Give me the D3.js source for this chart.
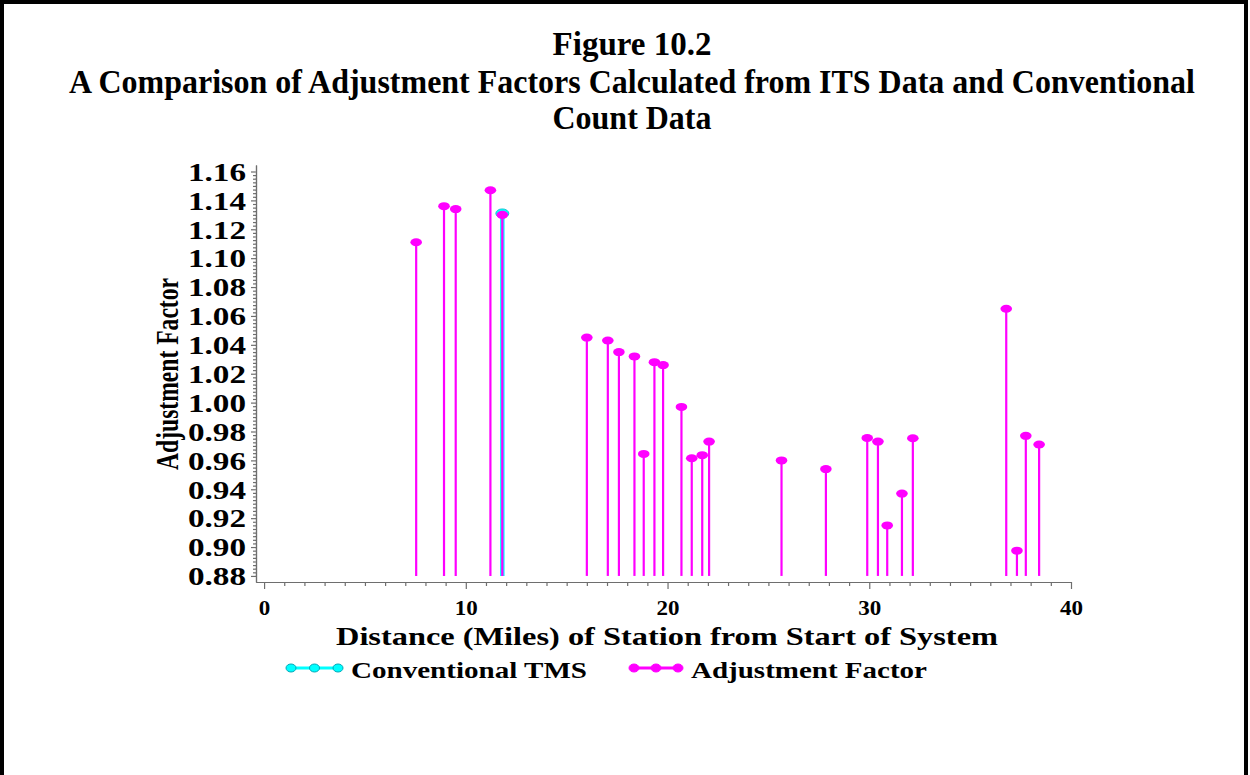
<!DOCTYPE html>
<html>
<head>
<meta charset="utf-8">
<script src="https://cdn.jsdelivr.net/npm/d3@7"></script>
<style>
  html, body { margin: 0; padding: 0; background: #fff; }
  svg { display: block; }
  text { font-family: "Liberation Serif", "Times New Roman", serif; font-weight: bold; fill: #000; }
</style>
</head>
<body>
<svg id="chart" width="1250" height="775"></svg>
<script>
// Station distance (miles) and ITS-based adjustment factor
const stationMiles = [7.54, 8.92, 9.50, 11.22, 11.81, 16.00, 17.04, 17.59, 18.36, 18.82,
  19.35, 19.78, 20.69, 21.20, 21.72, 22.06, 25.65, 27.85, 29.90, 30.43,
  30.89, 31.62, 32.16, 36.79, 37.32, 37.76, 38.42];
const adjustmentFactors = [1.111, 1.136, 1.134, 1.147, 1.130, 1.045, 1.043, 1.035, 1.032, 0.9645,
  1.028, 1.026, 0.997, 0.9615, 0.9636, 0.973, 0.960, 0.954, 0.9755, 0.973,
  0.915, 0.937, 0.9753, 1.065, 0.8975, 0.977, 0.971];

// Conventional count station
const tmsMiles = [11.81];
const tmsFactors = [1.131];

const xTicks = [0, 10, 20, 30, 40];
const yTicks = [0.88, 0.90, 0.92, 0.94, 0.96, 0.98, 1.00, 1.02, 1.04, 1.06, 1.08, 1.10, 1.12, 1.14, 1.16];
const baseValue = 0.88;

const titleLines = ["Figure 10.2",
  "A Comparison of Adjustment Factors Calculated from ITS Data and Conventional",
  "Count Data"];
const xTitle = "Distance (Miles) of Station from Start of System";
const yTitle = "Adjustment Factor";
const legendLabels = ["Conventional TMS", "Adjustment Factor"];

const MAGENTA = "#ff00ff";
const CYAN = "#00ffff";
const AXIS = "#6e6e6e";

const svg = d3.select("#chart");

// outer frame
svg.append("rect")
  .attr("x", 2).attr("y", 2).attr("width", 1244).attr("height", 800)
  .attr("fill", "none").attr("stroke", "#000").attr("stroke-width", 4);

// titles: condensed bold serif, squeezed horizontally to a set width
const titleY = [55, 93, 129];
const titleW = [159, 1126, 159];
titleLines.forEach((t, i) => {
  const g = svg.append("g");
  const txt = g.append("text")
    .attr("x", 0).attr("y", 0)
    .attr("text-anchor", "middle")
    .attr("font-size", 34)
    .text(t);
  const natural = txt.node().getComputedTextLength();
  g.attr("transform", `translate(632,${titleY[i]}) scale(${titleW[i] / natural},1)`);
});

const x = d3.scaleLinear().domain([-0.4, 40]).range([256, 1071]);
const y = d3.scaleLinear().domain([0.8758, 1.1645]).range([582, 165]);

// x axis: minor ticks every mile, major every 10
const minorX = d3.range(0, 41).filter(v => v % 10 !== 0);
const gxMinor = svg.append("g").attr("transform", "translate(0,582)")
  .call(d3.axisBottom(x).tickValues(minorX).tickSize(4).tickSizeOuter(0).tickFormat(""));
const gx = svg.append("g").attr("transform", "translate(0,582)")
  .call(d3.axisBottom(x).tickValues(xTicks).tickSize(7).tickSizeOuter(0).tickPadding(8));
[gxMinor, gx].forEach(g => {
  g.selectAll("path, line").attr("stroke", AXIS).attr("stroke-width", 1.2);
});
gx.selectAll("text")
  .attr("font-size", 21)
  .attr("font-family", "Liberation Serif, serif")
  .attr("font-weight", "bold")
  .attr("fill", "#000")
  .attr("dy", "0.85em")
  .each(function (d) {
    const w = String(d).length * 11.5;
    d3.select(this).attr("textLength", w).attr("lengthAdjust", "spacingAndGlyphs");
  });

// y axis: minor ticks between majors
const minorY = d3.range(0, 113).map(i => 0.88 + i * 0.0025).filter(v => Math.abs(Math.round(v * 50) - v * 50) > 1e-6);
const gyMinor = svg.append("g").attr("transform", "translate(256,0)")
  .call(d3.axisLeft(y).tickValues(minorY).tickSize(3).tickSizeOuter(0).tickFormat(""));
const gy = svg.append("g").attr("transform", "translate(256,0)")
  .call(d3.axisLeft(y).tickValues(yTicks).tickSize(5).tickSizeOuter(0).tickPadding(5)
    .tickFormat(d3.format(".2f")));
[gyMinor, gy].forEach(g => {
  g.selectAll("path, line").attr("stroke", AXIS).attr("stroke-width", 1.2);
});
gy.selectAll("text")
  .attr("font-size", 25)
  .attr("font-family", "Liberation Serif, serif")
  .attr("font-weight", "bold")
  .attr("fill", "#000")
  .attr("dy", "0.35em")
  .attr("textLength", 58)
  .attr("lengthAdjust", "spacingAndGlyphs");

// axis titles
svg.append("text")
  .attr("x", 667).attr("y", 645)
  .attr("text-anchor", "middle")
  .attr("font-size", 26)
  .attr("textLength", 662)
  .attr("lengthAdjust", "spacingAndGlyphs")
  .text(xTitle);

svg.append("text")
  .attr("transform", "translate(178,374) rotate(-90)")
  .attr("text-anchor", "middle")
  .attr("font-size", 31)
  .attr("textLength", 192)
  .attr("lengthAdjust", "spacingAndGlyphs")
  .text(yTitle);

// conventional TMS needle (drawn underneath)
const tms = tmsMiles.map((m, i) => ({ m, v: tmsFactors[i] }));
svg.append("g").selectAll("line").data(tms).join("line")
  .attr("x1", d => x(d.m)).attr("x2", d => x(d.m))
  .attr("y1", y(baseValue)).attr("y2", d => y(d.v))
  .attr("stroke", CYAN).attr("stroke-width", 4.5);
svg.append("g").selectAll("ellipse").data(tms).join("ellipse")
  .attr("cx", d => x(d.m)).attr("cy", d => y(d.v))
  .attr("rx", 6.5).attr("ry", 4.5)
  .attr("fill", CYAN).attr("stroke", "#00b8c8").attr("stroke-width", 0.8);

// adjustment factor needles
const pts = stationMiles.map((m, i) => ({ m, v: adjustmentFactors[i] }));
svg.append("g").selectAll("line").data(pts).join("line")
  .attr("x1", d => x(d.m)).attr("x2", d => x(d.m))
  .attr("y1", y(baseValue)).attr("y2", d => y(d.v))
  .attr("stroke", MAGENTA).attr("stroke-width", 2.2);
svg.append("g").selectAll("ellipse").data(pts).join("ellipse")
  .attr("cx", d => x(d.m)).attr("cy", d => y(d.v))
  .attr("rx", 5.8).attr("ry", 4)
  .attr("fill", MAGENTA);

// legend
const legend = svg.append("g");
const legendItems = [
  { x0: 291, x1: 338, color: CYAN, stroke: "#00a8b8", tx: 351, label: legendLabels[0] },
  { x0: 634, x1: 678, color: MAGENTA, stroke: MAGENTA, tx: 691, label: legendLabels[1] }
];
legendItems.forEach(it => {
  legend.append("line")
    .attr("x1", it.x0).attr("x2", it.x1).attr("y1", 668).attr("y2", 668)
    .attr("stroke", it.color).attr("stroke-width", 3);
  [it.x0, (it.x0 + it.x1) / 2, it.x1].forEach(cx => {
    legend.append("ellipse")
      .attr("cx", cx).attr("cy", 668).attr("rx", 5).attr("ry", 4)
      .attr("fill", it.color).attr("stroke", it.stroke).attr("stroke-width", 1);
  });
  legend.append("text")
    .attr("x", it.tx).attr("y", 678)
    .attr("font-size", 24)
    .attr("textLength", 236)
    .attr("lengthAdjust", "spacingAndGlyphs")
    .text(it.label);
});
</script>
</body>
</html>
